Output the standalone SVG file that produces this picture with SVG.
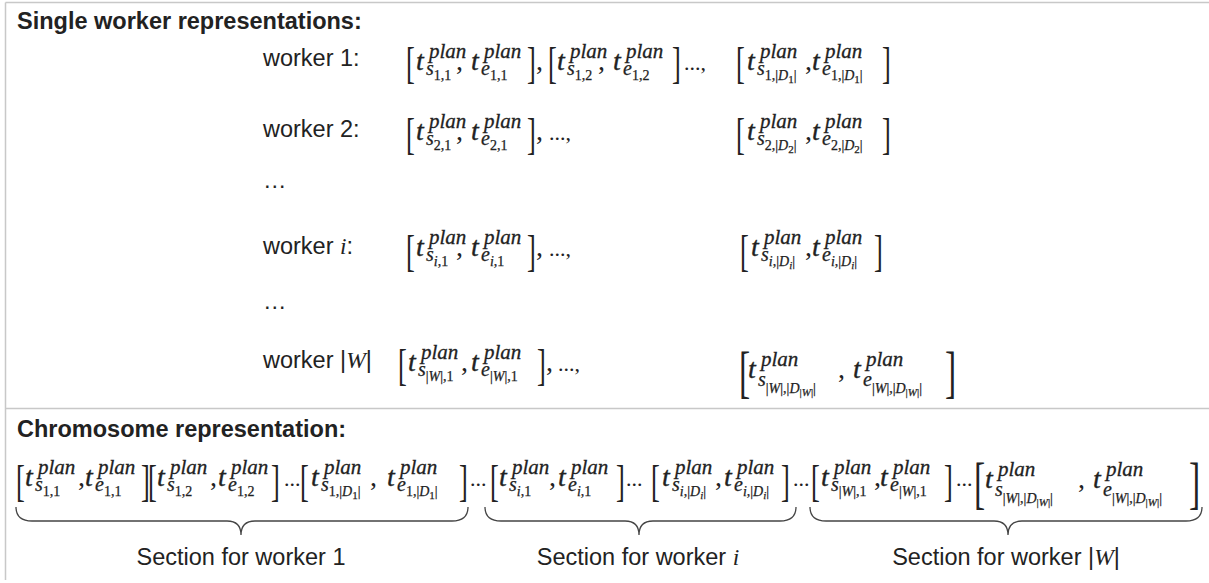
<svg xmlns="http://www.w3.org/2000/svg" width="1209" height="583" viewBox="0 0 1209 583">
<style>
text{fill:#222}
.h{font:bold 23.5px "Liberation Sans",Arial,sans-serif}
.l{font:23.5px "Liberation Sans",Arial,sans-serif}
.mi{font-family:"Liberation Serif",serif;font-style:italic}
.t{font:italic 28px "Liberation Serif",serif;stroke:#222;stroke-width:0.35}
.p{font:italic 21px "Liberation Serif",serif;stroke:#222;stroke-width:0.3}
.s{font:italic 20px "Liberation Serif",serif;stroke:#222;stroke-width:0.25}
.ss{font-size:14px;font-style:normal}
.i{font-style:italic}
.x{font-size:11px}
.c{font:28px "Liberation Serif",serif}
.d{font:22px "Liberation Serif",serif}
.b{font:44px "Liberation Serif",serif}
.B{font:56px "Liberation Serif",serif}
.ln{stroke:#c8c8c8;stroke-width:1.5;fill:none}
.brace{fill:none;stroke:#444;stroke-width:1.3}
</style>
<defs>
<g id="tp"><text class="t" x="0" y="0">t</text><text class="p" x="13" y="-12">plan</text></g>
</defs>
<g id="frame">
<path class="ln" d="M5.5,2.5H1209M5.5,2.5V580M5.5,408.5H1209"/>
</g>
<g id="titles">
<text class="h" x="17" y="29">Single worker representations:</text>
<text class="h" x="17" y="437">Chromosome representation:</text>
</g>
<g id="worker1">
<text class="l" x="263" y="66">worker 1:</text>
<text class="b" transform="translate(406,78) scale(0.6,1)">[</text>
<g transform="translate(416,70)"><use href="#tp"/><text class="s" x="10" y="5">s<tspan class="ss" dy="5">1,1</tspan></text></g>
<text class="c" x="456" y="70">,</text>
<g transform="translate(471,70)"><use href="#tp"/><text class="s" x="10" y="5">e<tspan class="ss" dy="5">1,1</tspan></text></g>
<text class="b" transform="translate(527,78) scale(0.6,1)">]</text>
<text class="c" x="536" y="70">,</text>
<text class="b" transform="translate(548,78) scale(0.6,1)">[</text>
<g transform="translate(557,70)"><use href="#tp"/><text class="s" x="10" y="5">s<tspan class="ss" dy="5">1,2</tspan></text></g>
<text class="c" x="598" y="70">,</text>
<g transform="translate(613,70)"><use href="#tp"/><text class="s" x="10" y="5">e<tspan class="ss" dy="5">1,2</tspan></text></g>
<text class="b" transform="translate(672,78) scale(0.6,1)">]</text>
<text class="d" x="684" y="70">...,</text>
<text class="b" transform="translate(736,78) scale(0.6,1)">[</text>
<g transform="translate(747,70)"><use href="#tp"/><text class="s" x="10" y="5">s<tspan class="ss" dy="5">1,|<tspan class="i">D</tspan><tspan class="x" dy="3">1</tspan><tspan dy="-3">|</tspan></tspan></text></g>
<text class="c" x="805" y="70">,</text>
<g transform="translate(812,70)"><use href="#tp"/><text class="s" x="10" y="5">e<tspan class="ss" dy="5">1,|<tspan class="i">D</tspan><tspan class="x" dy="3">1</tspan><tspan dy="-3">|</tspan></tspan></text></g>
<text class="b" transform="translate(882,78) scale(0.6,1)">]</text>
</g>
<g id="worker2">
<text class="l" x="263" y="137">worker 2:</text>
<text class="b" transform="translate(406,149) scale(0.6,1)">[</text>
<g transform="translate(416,140)"><use href="#tp"/><text class="s" x="10" y="5">s<tspan class="ss" dy="5">2,1</tspan></text></g>
<text class="c" x="456" y="140">,</text>
<g transform="translate(471,140)"><use href="#tp"/><text class="s" x="10" y="5">e<tspan class="ss" dy="5">2,1</tspan></text></g>
<text class="b" transform="translate(527,149) scale(0.6,1)">]</text>
<text class="c" x="536" y="140">,</text>
<text class="d" x="549" y="140">...,</text>
<text class="b" transform="translate(736,149) scale(0.6,1)">[</text>
<g transform="translate(747,140)"><use href="#tp"/><text class="s" x="10" y="5">s<tspan class="ss" dy="5">2,|<tspan class="i">D</tspan><tspan class="x" dy="3">2</tspan><tspan dy="-3">|</tspan></tspan></text></g>
<text class="c" x="805" y="140">,</text>
<g transform="translate(812,140)"><use href="#tp"/><text class="s" x="10" y="5">e<tspan class="ss" dy="5">2,|<tspan class="i">D</tspan><tspan class="x" dy="3">2</tspan><tspan dy="-3">|</tspan></tspan></text></g>
<text class="b" transform="translate(882,149) scale(0.6,1)">]</text>
</g>
<g id="dots1"><text class="l" x="263" y="188">…</text></g>
<g id="workeri">
<text class="l" x="263" y="254">worker <tspan class="mi">i</tspan>:</text>
<text class="b" transform="translate(406,266) scale(0.6,1)">[</text>
<g transform="translate(416,256)"><use href="#tp"/><text class="s" x="10" y="5">s<tspan class="ss" dy="5"><tspan class="i">i</tspan>,1</tspan></text></g>
<text class="c" x="456" y="256">,</text>
<g transform="translate(471,256)"><use href="#tp"/><text class="s" x="10" y="5">e<tspan class="ss" dy="5"><tspan class="i">i</tspan>,1</tspan></text></g>
<text class="b" transform="translate(527,266) scale(0.6,1)">]</text>
<text class="c" x="536" y="256">,</text>
<text class="d" x="549" y="256">...,</text>
<text class="b" transform="translate(740,266) scale(0.6,1)">[</text>
<g transform="translate(751,256)"><use href="#tp"/><text class="s" x="10" y="5">s<tspan class="ss" dy="5"><tspan class="i">i</tspan>,|<tspan class="i">D</tspan><tspan class="x i" dy="3">i</tspan><tspan dy="-3">|</tspan></tspan></text></g>
<text class="c" x="805" y="256">,</text>
<g transform="translate(812,256)"><use href="#tp"/><text class="s" x="10" y="5">e<tspan class="ss" dy="5"><tspan class="i">i</tspan>,|<tspan class="i">D</tspan><tspan class="x i" dy="3">i</tspan><tspan dy="-3">|</tspan></tspan></text></g>
<text class="b" transform="translate(874,266) scale(0.6,1)">]</text>
</g>
<g id="dots2"><text class="l" x="263" y="309">…</text></g>
<g id="workerW">
<text class="l" x="263" y="368">worker |<tspan class="mi">W</tspan>|</text>
<text class="b" transform="translate(398,380) scale(0.6,1)">[</text>
<g transform="translate(408,371)"><use href="#tp"/><text class="s" x="10" y="5">s<tspan class="ss" dy="5">|<tspan class="i">W</tspan>|,1</tspan></text></g>
<text class="c" x="461" y="371">,</text>
<g transform="translate(471,371)"><use href="#tp"/><text class="s" x="10" y="5">e<tspan class="ss" dy="5">|<tspan class="i">W</tspan>|,1</tspan></text></g>
<text class="b" transform="translate(537,380) scale(0.6,1)">]</text>
<text class="c" x="546" y="371">,</text>
<text class="d" x="558" y="371">...,</text>
<text class="B" transform="translate(739,391) scale(0.6,1)">[</text>
<g transform="translate(748,378)"><use href="#tp"/><text class="s" x="10" y="8">s<tspan class="ss" dy="7">|<tspan class="i">W</tspan>|,|<tspan class="i">D</tspan><tspan class="x" dy="3">|<tspan class="i">W</tspan>|</tspan><tspan dy="-3">|</tspan></tspan></text></g>
<text class="c" x="838" y="378">,</text>
<g transform="translate(853,378)"><use href="#tp"/><text class="s" x="10" y="8">e<tspan class="ss" dy="7">|<tspan class="i">W</tspan>|,|<tspan class="i">D</tspan><tspan class="x" dy="3">|<tspan class="i">W</tspan>|</tspan><tspan dy="-3">|</tspan></tspan></text></g>
<text class="B" transform="translate(945,391) scale(0.6,1)">]</text>
</g>
<g id="chromosome">
<text class="b" transform="translate(16,496) scale(0.6,1)">[</text>
<g transform="translate(25,486)"><use href="#tp"/><text class="s" x="10" y="5">s<tspan class="ss" dy="5">1,1</tspan></text></g>
<text class="c" x="78" y="486">,</text>
<g transform="translate(85,486)"><use href="#tp"/><text class="s" x="10" y="5">e<tspan class="ss" dy="5">1,1</tspan></text></g>
<text class="b" transform="translate(141,496) scale(0.6,1)">]</text>
<text class="b" transform="translate(148,496) scale(0.6,1)">[</text>
<g transform="translate(157,486)"><use href="#tp"/><text class="s" x="10" y="5">s<tspan class="ss" dy="5">1,2</tspan></text></g>
<text class="c" x="210" y="486">,</text>
<g transform="translate(218,486)"><use href="#tp"/><text class="s" x="10" y="5">e<tspan class="ss" dy="5">1,2</tspan></text></g>
<text class="b" transform="translate(271,496) scale(0.6,1)">]</text>
<text class="d" x="284" y="486">...</text>
<text class="b" transform="translate(300,496) scale(0.6,1)">[</text>
<g transform="translate(311,486)"><use href="#tp"/><text class="s" x="10" y="5">s<tspan class="ss" dy="5">1,|<tspan class="i">D</tspan><tspan class="x" dy="3">1</tspan><tspan dy="-3">|</tspan></tspan></text></g>
<text class="c" x="370" y="486">,</text>
<g transform="translate(387,486)"><use href="#tp"/><text class="s" x="10" y="5">e<tspan class="ss" dy="5">1,|<tspan class="i">D</tspan><tspan class="x" dy="3">1</tspan><tspan dy="-3">|</tspan></tspan></text></g>
<text class="b" transform="translate(459,496) scale(0.6,1)">]</text>
<text class="d" x="470" y="486">...</text>
<text class="b" transform="translate(490,496) scale(0.6,1)">[</text>
<g transform="translate(499,486)"><use href="#tp"/><text class="s" x="10" y="5">s<tspan class="ss" dy="5"><tspan class="i">i</tspan>,1</tspan></text></g>
<text class="c" x="549" y="486">,</text>
<g transform="translate(558,486)"><use href="#tp"/><text class="s" x="10" y="5">e<tspan class="ss" dy="5"><tspan class="i">i</tspan>,1</tspan></text></g>
<text class="b" transform="translate(616,496) scale(0.6,1)">]</text>
<text class="d" x="626" y="486">...</text>
<text class="b" transform="translate(651,496) scale(0.6,1)">[</text>
<g transform="translate(662,486)"><use href="#tp"/><text class="s" x="10" y="5">s<tspan class="ss" dy="5"><tspan class="i">i</tspan>,|<tspan class="i">D</tspan><tspan class="x i" dy="3">i</tspan><tspan dy="-3">|</tspan></tspan></text></g>
<text class="c" x="715" y="486">,</text>
<g transform="translate(724,486)"><use href="#tp"/><text class="s" x="10" y="5">e<tspan class="ss" dy="5"><tspan class="i">i</tspan>,|<tspan class="i">D</tspan><tspan class="x i" dy="3">i</tspan><tspan dy="-3">|</tspan></tspan></text></g>
<text class="b" transform="translate(781,496) scale(0.6,1)">]</text>
<text class="d" x="793" y="486">...</text>
<text class="b" transform="translate(811,496) scale(0.6,1)">[</text>
<g transform="translate(821,486)"><use href="#tp"/><text class="s" x="10" y="5">s<tspan class="ss" dy="5">|<tspan class="i">W</tspan>|,1</tspan></text></g>
<text class="c" x="874" y="486">,</text>
<g transform="translate(880,486)"><use href="#tp"/><text class="s" x="10" y="5">e<tspan class="ss" dy="5">|<tspan class="i">W</tspan>|,1</tspan></text></g>
<text class="b" transform="translate(944,496) scale(0.6,1)">]</text>
<text class="d" x="956" y="486">...</text>
<text class="B" transform="translate(974,502) scale(0.6,1)">[</text>
<g transform="translate(985,488)"><use href="#tp"/><text class="s" x="10" y="8">s<tspan class="ss" dy="7">|<tspan class="i">W</tspan>|,|<tspan class="i">D</tspan><tspan class="x" dy="3">|<tspan class="i">W</tspan>|</tspan><tspan dy="-3">|</tspan></tspan></text></g>
<text class="c" x="1078" y="488">,</text>
<g transform="translate(1093,488)"><use href="#tp"/><text class="s" x="10" y="8">e<tspan class="ss" dy="7">|<tspan class="i">W</tspan>|,|<tspan class="i">D</tspan><tspan class="x" dy="3">|<tspan class="i">W</tspan>|</tspan><tspan dy="-3">|</tspan></tspan></text></g>
<text class="B" transform="translate(1189,502) scale(0.6,1)">]</text>
</g>
<g id="connectors">
<path class="brace" d="M16,507Q16,521 32,521L227,521Q241,521 241,535Q241,521 255,521L452,521Q468,521 468,507"/>
<path class="brace" d="M485,507Q485,521 501,521L625,521Q639,521 639,535Q639,521 653,521L780,521Q796,521 796,507"/>
<path class="brace" d="M810,507Q810,521 826,521L994,521Q1008,521 1008,535Q1008,521 1022,521L1186,521Q1202,521 1202,507"/>
</g>
<g id="sections">
<text class="l" x="241" y="565" text-anchor="middle">Section for worker 1</text>
<text class="l" x="638" y="565" text-anchor="middle">Section for worker <tspan class="mi">i</tspan></text>
<text class="l" x="1006" y="565" text-anchor="middle">Section for worker |<tspan class="mi">W</tspan>|</text>
</g>
</svg>
